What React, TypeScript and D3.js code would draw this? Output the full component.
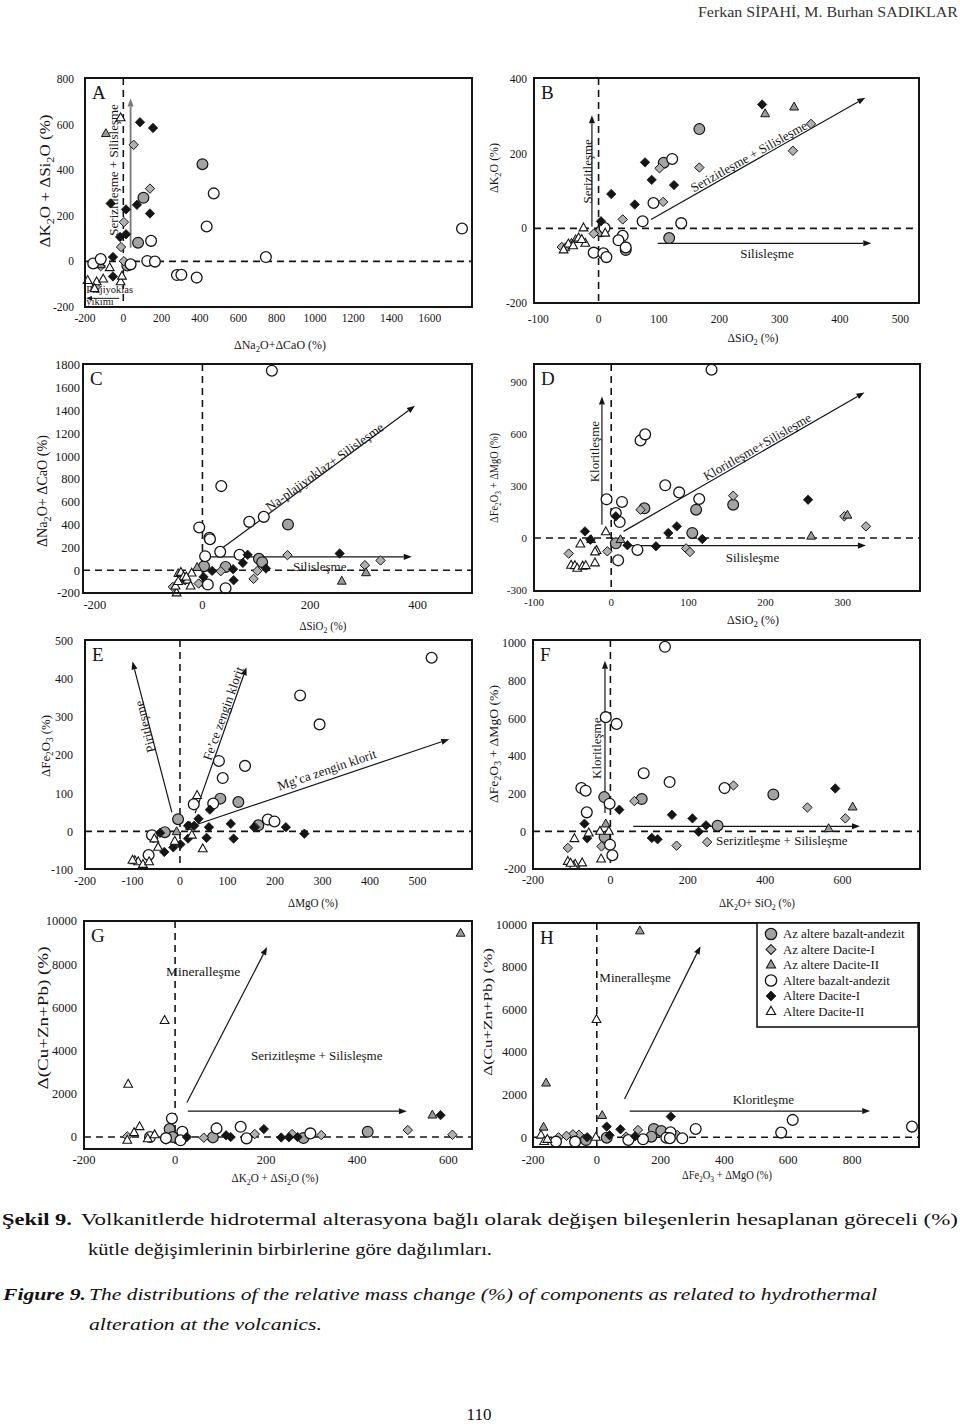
import React, { useEffect } from 'react';
import * as d3 from 'd3';

type P = [number, number];

// ---------------- DATA ----------------
// Series order: azBA (gray circle), azD1 (gray diamond), azD2 (gray triangle),
// altBA (open circle), altD1 (black diamond), altD2 (open triangle)
const LEGEND_LABELS = [
  'Az altere bazalt-andezit',
  'Az altere Dacite-I',
  'Az altere Dacite-II',
  'Altere bazalt-andezit',
  'Altere Dacite-I',
  'Altere Dacite-II',
];

// Panel A: ΔNa2O+ΔCaO vs ΔK2O+ΔSi2O
const A_azBA: P[] = [[413, 426], [105, 279], [77, 82], [21, -18]];
const A_azD1: P[] = [[54, 511], [139, 319], [3, 172], [-12, 63], [3, 1], [-118, -21], [-143, -112]];
const A_azD2: P[] = [[-91, 560], [-118, -15]];
const A_altBA: P[] = [[-157, -9], [-118, 10], [125, 2], [165, -1], [145, 90], [435, 153], [472, 298], [744, 19], [1768, 144], [280, -60], [303, -59], [383, -71], [38, -13]];
const A_altD1: P[] = [[87, 610], [155, 585], [-66, 254], [71, 248], [139, 210], [14, 228], [-17, 107], [14, 119], [-54, 19], [-54, -66]];
const A_altD2: P[] = [[-14, 629], [-186, -84], [-139, -90], [-105, -78], [-71, -28], [-14, -90], [-7, -65], [-150, -120]];

// Panel B: ΔSiO2 vs ΔK2O
const B_azBA: P[] = [[167, 266], [108, 176], [117, -26], [4, -8], [45, -58]];
const B_azD1: P[] = [[101, 161], [167, 163], [107, 71], [40, 24], [322, 208], [352, 280], [-61, -50], [-8, -14]];
const B_azD2: P[] = [[276, 307], [324, 325], [-55, -52], [-45, -40], [-38, -30]];
const B_altBA: P[] = [[122, 186], [91, 68], [73, 19], [137, 14], [10, 1], [40, -20], [33, -32], [45, -51], [-8, -65], [8, -67], [13, -77]];
const B_altD1: P[] = [[271, 332], [77, 177], [88, 130], [125, 116], [21, 92], [60, 64], [4, 19]];
const B_altD2: P[] = [[-25, 1], [-22, -40], [-33, -26], [-50, -42], [11, -13], [-58, -58], [-42, -47], [-28, -30]];

// Panel C: ΔSiO2 vs ΔNa2O+ΔCaO
const C_azBA: P[] = [[159, 401], [105, 100], [111, 70], [43, 29], [3, 35]];
const C_azD1: P[] = [[158, 132], [302, 44], [331, 85], [102, -6], [95, -76], [34, -9], [-7, -117], [-55, -146]];
const C_azD2: P[] = [[259, -97], [304, -23], [-10, 23], [-45, -30]];
const C_altBA: P[] = [[129, 1750], [35, 738], [-6, 375], [87, 424], [114, 468], [13, 284], [14, 272], [33, 161], [5, 123], [69, 135], [10, -126], [43, -158]];
const C_altD1: P[] = [[255, 146], [84, 135], [75, 64], [57, 9], [118, 15], [18, -6], [2, -59], [58, -88], [-32, -88]];
const C_altD2: P[] = [[-40, -20], [-35, -58], [-28, -88], [-20, -26], [-48, -200], [-50, -140], [-22, -140], [-30, -60], [-45, -100]];

// Panel D: ΔSiO2 vs ΔFe2O3+ΔMgO
const D_azBA: P[] = [[43, 171], [110, 163], [158, 192], [105, 29], [6, -31]];
const D_azD1: P[] = [[158, 244], [38, 163], [302, 125], [330, 67], [97, -60], [102, -81], [-5, -77], [-55, -90]];
const D_azD2: P[] = [[306, 131], [259, 10], [-26, -10], [12, -10]];
const D_altBA: P[] = [[130, 971], [38, 563], [44, 598], [70, 304], [88, 263], [114, 225], [-6, 223], [14, 208], [6, 144], [11, 92], [34, -69], [9, -129]];
const D_altD1: P[] = [[255, 221], [6, 125], [85, 67], [74, 29], [-34, 38], [118, -6], [21, -42], [58, -48], [-27, -10]];
const D_altD2: P[] = [[-7, 35], [-40, -35], [-19, -73], [-21, -144], [-52, -158], [-47, -160], [-44, -175], [-37, -163], [-33, -160], [-21, -81]];

// Panel E: ΔMgO vs ΔFe2O3
const E_azBA: P[] = [[85, 86], [123, 77], [-4, 32], [165, 16], [-32, -2]];
const E_azD1: P[] = [[158, 11], [-56, -18]];
const E_azD2: P[] = [[-7, -1], [21, 13]];
const E_altBA: P[] = [[530, 456], [253, 357], [294, 281], [82, 185], [137, 172], [90, 140], [29, 71], [70, 73], [185, 31], [199, 26], [-59, -10], [-66, -62]];
const E_altD1: P[] = [[63, 57], [39, 33], [30, 15], [17, 15], [61, 11], [107, 20], [156, 11], [223, 11], [262, -6], [56, -17], [113, -19], [17, -19], [1, -34], [-14, -42], [-33, -54], [-42, -4]];
const E_altD2: P[] = [[25, -10], [48, -46], [36, 94], [-11, -26], [-46, -42], [-54, -20], [-95, -77], [-88, -80], [-78, -87], [-65, -80], [-100, -76]];

// Panel F: ΔK2O+SiO2 vs ΔFe2O3+ΔMgO
const F_azBA: P[] = [[-16, 182], [81, 172], [421, 196], [277, 30], [-15, -30]];
const F_azD1: P[] = [[318, 244], [62, 161], [509, 127], [607, 69], [250, -57], [171, -76], [-23, -80], [-110, -88]];
const F_azD2: P[] = [[626, 129], [564, 14], [-12, 39]];
const F_altBA: P[] = [[141, 981], [-12, 607], [16, 571], [86, 309], [153, 262], [295, 230], [-75, 230], [-64, 216], [-61, 101], [-2, 147], [-1, -71], [5, -127]];
const F_altD1: P[] = [[581, 228], [23, 115], [159, 88], [212, 69], [247, 32], [228, -2], [107, -35], [122, -42], [-67, 41], [-60, -37]];
const F_altD2: P[] = [[-93, -39], [-56, -9], [-27, 0], [-4, 0], [-24, -147], [-110, -160], [-91, -175], [-73, -168], [-95, -185], [-103, -170]];

// Panel G: ΔK2O+ΔSi2O vs Δ(Cu+Zn+Pb)
const G_azBA: P[] = [[-12, 369], [83, -15], [282, -46], [423, 246], [-5, 0]];
const G_azD1: P[] = [[511, 323], [609, 108], [321, 92], [257, 138], [175, 138], [63, -31], [-20, -120], [-105, 30]];
const G_azD2: P[] = [[627, 9430], [565, 1014]];
const G_altBA: P[] = [[-7, 860], [91, 400], [144, 476], [16, 246], [157, -61], [297, 169], [12, -150], [-20, -50], [-55, 0]];
const G_altD1: P[] = [[583, 1014], [195, 369], [233, -20], [269, 0], [250, -10], [112, 80], [122, 0], [26, 0]];
const G_altD2: P[] = [[-23, 5392], [-103, 2442], [-78, 476], [-105, -150], [-90, 200], [-60, -80], [-45, 100]];

// Panel H: ΔFe2O3+ΔMgO vs Δ(Cu+Zn+Pb)
const H_azBA: P[] = [[179, 392], [202, 298], [171, 31], [-34, -126], [31, -16]];
const H_azD1: P[] = [[129, 345], [252, 110], [92, 31], [-56, 120], [-75, 140], [-95, 70], [-120, 0]];
const H_azD2: P[] = [[135, 9686], [-159, 2543], [17, 1020], [-167, 471]];
const H_altBA: P[] = [[988, 502], [614, 816], [578, 220], [310, 392], [231, 235], [268, -47], [145, -94], [99, -126], [218, -20], [229, -40], [-68, -204], [-128, -204]];
const H_altD1: P[] = [[232, 973], [31, 502], [74, 377], [120, 50], [-30, 0], [40, 100]];
const H_altD2: P[] = [[-1, 5526], [-175, 100], [-165, -200], [-155, -100], [-3, 0]];

// Tick labels
const A_xTicks = [-200, 0, 200, 400, 600, 800, 1000, 1200, 1400, 1600];
const A_yTicks = [-200, 0, 200, 400, 600, 800];
const B_xTicks = [-100, 0, 100, 200, 300, 400, 500];
const B_yTicks = [-200, 0, 200, 400];
const C_xTicks = [-200, 0, 200, 400];
const C_yTicks = [-200, 0, 200, 400, 600, 800, 1000, 1200, 1400, 1600, 1800];
const D_xTicks = [-100, 0, 100, 200, 300];
const D_yTicks = [-300, 0, 300, 600, 900];
const E_xTicks = [-200, -100, 0, 100, 200, 300, 400, 500];
const E_yTicks = [-100, 0, 100, 200, 300, 400, 500];
const F_xTicks = [-200, 0, 200, 400, 600];
const F_yTicks = [-200, 0, 200, 400, 600, 800, 1000];
const G_xTicks = [-200, 0, 200, 400, 600];
const G_yTicks = [0, 2000, 4000, 6000, 8000, 10000];
const H_xTicks = [-200, 0, 200, 400, 600, 800];
const H_yTicks = [0, 2000, 4000, 6000, 8000, 10000];

// ---------------- LAYOUT / CONFIG ----------------
interface Arrow { from: P; to: P; color?: string; width?: number; head?: number }
interface Note { text: string; at: P; angle?: number; anchor?: 'start' | 'middle' | 'end'; size?: number }
interface Panel {
  letter: string;
  box: [number, number, number, number];
  xDomain: [number, number];
  yDomain: [number, number];
  xTicks: number[];
  yTicks: number[];
  tickSize: number;
  yTickGap: number;
  xTickDy: number;
  xLabel: string;
  yLabel: string;
  xLabelPos: P;
  yLabelPos: P;
  xLabelLen: number;
  yLabelLen: number;
  yLabelSize: number;
  series: P[][];
  arrows: Arrow[];
  notes: Note[];
}

const PANELS: Panel[] = [
  {
    letter: 'A', box: [85, 78, 472, 307], xDomain: [-200, 1820], yDomain: [-200, 804],
    xTicks: A_xTicks, yTicks: A_yTicks, tickSize: 11.5, yTickGap: 11, xTickDy: 15,
    xLabel: 'ΔNa_2O+ΔCaO (%)', yLabel: 'ΔK_2O + ΔSi_2O (%)', xLabelPos: [280, 349], yLabelPos: [50, 181],
    xLabelLen: 92, yLabelLen: 133, yLabelSize: 14.5,
    series: [A_azBA, A_azD1, A_azD2, A_altBA, A_altD1, A_altD2],
    arrows: [
      { from: [38, 60], to: [38, 714], color: '#777', width: 1.8 },
      { from: [-21, -162], to: [-195, -162], width: 1, head: 6 },
    ],
    notes: [
      { text: 'Serizitleşme + Silisleşme', at: [-52, 401], angle: -90 },
      { text: 'Plajiyoklas', at: [-193, -140], anchor: 'start', size: 10.5 },
      { text: 'yıkımı', at: [-193, -192], anchor: 'start', size: 10.5 },
    ],
  },
  {
    letter: 'B', box: [534, 78, 919, 303], xDomain: [-107, 531], yDomain: [-200, 403],
    xTicks: B_xTicks, yTicks: B_yTicks, tickSize: 11.5, yTickGap: 7, xTickDy: 20,
    xLabel: 'ΔSiO_2 (%)', yLabel: 'ΔK_2O (%)', xLabelPos: [753, 342], yLabelPos: [498, 168],
    xLabelLen: 51, yLabelLen: 50, yLabelSize: 12.5,
    series: [B_azBA, B_azD1, B_azD2, B_altBA, B_altD1, B_altD2],
    arrows: [
      { from: [-11, 5], to: [-11, 303] },
      { from: [87, 24], to: [442, 350] },
      { from: [98, -40], to: [452, -40] },
    ],
    notes: [
      { text: 'Serizitleşme', at: [-19, 153], angle: -90 },
      { text: 'Serizitleşme + Silisleşme', at: [249, 193], angle: -29.4 },
      { text: 'Silisleşme', at: [279, -66] },
    ],
  },
  {
    letter: 'C', box: [83, 364, 472, 593], xDomain: [-222, 501], yDomain: [-200, 1809],
    xTicks: C_xTicks, yTicks: C_yTicks, tickSize: 12.5, yTickGap: 3, xTickDy: 16,
    xLabel: 'ΔSiO_2 (%)', yLabel: 'ΔNa_2O+ ΔCaO (%)', xLabelPos: [323, 630], yLabelPos: [47, 491],
    xLabelLen: 47, yLabelLen: 112, yLabelSize: 14,
    series: [C_azBA, C_azD1, C_azD2, C_altBA, C_altD1, C_altD2],
    arrows: [
      { from: [30, 170], to: [395, 1443] },
      { from: [10, 117], to: [389, 117] },
    ],
    notes: [
      { text: 'Na-plajiyoklaz+ Silisleşme', at: [227, 907], angle: -35.7 },
      { text: 'Silisleşme', at: [218, 35] },
    ],
  },
  {
    letter: 'D', box: [534, 364, 920, 591], xDomain: [-100, 400], yDomain: [-306, 1004],
    xTicks: D_xTicks, yTicks: D_yTicks, tickSize: 11, yTickGap: 7, xTickDy: 15,
    xLabel: 'ΔSiO_2 (%)', yLabel: 'ΔFe_2O_3 + ΔMgO (%)', xLabelPos: [753, 624], yLabelPos: [498, 478],
    xLabelLen: 52, yLabelLen: 90, yLabelSize: 11.5,
    series: [D_azBA, D_azD1, D_azD2, D_altBA, D_altD1, D_altD2],
    arrows: [
      { from: [-12, 77], to: [-12, 817] },
      { from: [16, 38], to: [328, 840] },
      { from: [21, -44], to: [330, -44] },
    ],
    notes: [
      { text: 'Kloritleşme', at: [-22, 498], angle: -90 },
      { text: 'Kloritleşme+Silisleşme', at: [189, 527], angle: -29.9 },
      { text: 'Silisleşme', at: [183, -111] },
    ],
  },
  {
    letter: 'E', box: [85, 640, 472, 869], xDomain: [-200, 615], yDomain: [-98.8, 502.6],
    xTicks: E_xTicks, yTicks: E_yTicks, tickSize: 12, yTickGap: 12, xTickDy: 16,
    xLabel: 'ΔMgO (%)', yLabel: 'ΔFe_2O_3 (%)', xLabelPos: [313, 907], yLabelPos: [50, 746],
    xLabelLen: 50, yLabelLen: 62, yLabelSize: 13,
    series: [E_azBA, E_azD1, E_azD2, E_altBA, E_altD1, E_altD2],
    arrows: [
      { from: [-17, 50], to: [-100, 446] },
      { from: [32, 48], to: [140, 431] },
      { from: [35, 18], to: [567, 242] },
    ],
    notes: [
      { text: 'Piritleşme', at: [-74, 275], angle: -104 },
      { text: 'Fe’ce zengin klorit', at: [91, 310], angle: -70.5 },
      { text: 'Mg’ca zengin klorit', at: [309, 162], angle: -18.7 },
    ],
  },
  {
    letter: 'F', box: [533, 640, 920, 869], xDomain: [-200, 800], yDomain: [-200, 1017],
    xTicks: F_xTicks, yTicks: F_yTicks, tickSize: 12, yTickGap: 7, xTickDy: 14.5,
    xLabel: 'ΔK_2O+ SiO_2 (%)', yLabel: 'ΔFe_2O_3 + ΔMgO (%)', xLabelPos: [757, 907], yLabelPos: [498, 744],
    xLabelLen: 76, yLabelLen: 118, yLabelSize: 13.5,
    series: [F_azBA, F_azD1, F_azD2, F_altBA, F_altD1, F_altD2],
    arrows: [
      { from: [-14, 98], to: [-14, 907] },
      { from: [59, 27], to: [645, 27] },
    ],
    notes: [
      { text: 'Kloritleşme', at: [-35, 442], angle: -90 },
      { text: 'Serizitleşme + Silisleşme', at: [443, -48] },
    ],
  },
  {
    letter: 'G', box: [84, 921, 472, 1149], xDomain: [-200, 652], yDomain: [-553, 10000],
    xTicks: G_xTicks, yTicks: G_yTicks, tickSize: 12.5, yTickGap: 7, xTickDy: 15,
    xLabel: 'ΔK_2O + ΔSi_2O (%)', yLabel: 'Δ(Cu+Zn+Pb) (%)', xLabelPos: [275, 1182], yLabelPos: [48, 1018],
    xLabelLen: 87, yLabelLen: 143, yLabelSize: 14.5,
    series: [G_azBA, G_azD1, G_azD2, G_altBA, G_altD1, G_altD2],
    arrows: [
      { from: [26, 1598], to: [202, 8797] },
      { from: [28, 1198], to: [509, 1198] },
    ],
    notes: [
      { text: 'Mineralleşme', at: [-20, 7465], anchor: 'start', size: 13.5 },
      { text: 'Serizitleşme + Silisleşme', at: [311, 3779] },
    ],
  },
  {
    letter: 'H', box: [533, 923, 919, 1147], xDomain: [-200, 1010], yDomain: [-455, 10060],
    xTicks: H_xTicks, yTicks: H_yTicks, tickSize: 12.5, yTickGap: 6, xTickDy: 17,
    xLabel: 'ΔFe_2O_3 + ΔMgO (%)', yLabel: 'Δ(Cu+Zn+Pb) (%)', xLabelPos: [727, 1179], yLabelPos: [492, 1012],
    xLabelLen: 90, yLabelLen: 128, yLabelSize: 13.5,
    series: [H_azBA, H_azD1, H_azD2, H_altBA, H_altD1, H_altD2],
    arrows: [
      { from: [87, 1795], to: [325, 8970] },
      { from: [103, 1233], to: [857, 1233] },
    ],
    notes: [
      { text: 'Mineralleşme', at: [8, 7290], anchor: 'start' },
      { text: 'Kloritleşme', at: [522, 1777] },
    ],
  },
];

const SERIF = '"Liberation Serif", "Times New Roman", serif';
const INK = '#151515';

// ---------------- HELPERS ----------------
function richText(s: string, size: number) {
  // "_2" => subscript 2
  const parts: React.ReactNode[] = [];
  const re = /_(\d+)/g;
  let last = 0;
  let m: RegExpExecArray | null;
  let k = 0;
  let shifted = false;
  while ((m = re.exec(s)) !== null) {
    if (m.index > last) {
      parts.push(<tspan key={k++} dy={shifted ? -size * 0.25 : 0}>{s.slice(last, m.index)}</tspan>);
      shifted = false;
    }
    parts.push(<tspan key={k++} dy={shifted ? 0 : size * 0.25} fontSize={size * 0.72}>{m[1]}</tspan>);
    shifted = true;
    last = m.index + m[0].length;
  }
  if (last < s.length) {
    parts.push(<tspan key={k++} dy={shifted ? -size * 0.25 : 0}>{s.slice(last)}</tspan>);
  }
  return parts;
}

function Marker({ kind, x, y, scale = 1 }: { kind: number; x: number; y: number; scale?: number }) {
  const t = `translate(${x},${y}) scale(${scale})`;
  switch (kind) {
    case 0:
      return <circle transform={t} r={5.4} fill="#a3a3a3" stroke={INK} strokeWidth={1.2} />;
    case 1:
      return <path transform={t} d="M0,-4.7L4.7,0L0,4.7L-4.7,0Z" fill="#b0b0b0" stroke={INK} strokeWidth={1} />;
    case 2:
      return <path transform={t} d="M0,-5L4.4,2.9L-4.4,2.9Z" fill="#9a9a9a" stroke={INK} strokeWidth={1} />;
    case 3:
      return <circle transform={t} r={5.4} fill="#fff" stroke={INK} strokeWidth={1.3} />;
    case 4:
      return <path transform={t} d="M0,-4.7L4.7,0L0,4.7L-4.7,0Z" fill={INK} stroke={INK} strokeWidth={0.8} />;
    default:
      return <path transform={t} d="M0,-5L4.4,2.9L-4.4,2.9Z" fill="#fff" stroke={INK} strokeWidth={1.1} />;
  }
}

function arrowHead(x1: number, y1: number, x2: number, y2: number, len: number, half: number) {
  const a = Math.atan2(y2 - y1, x2 - x1);
  const bx = x2 - len * Math.cos(a);
  const by = y2 - len * Math.sin(a);
  const px = -Math.sin(a) * half;
  const py = Math.cos(a) * half;
  return { path: `M${x2},${y2}L${bx + px},${by + py}L${bx - px},${by - py}Z`, bx, by };
}

function PanelView({ p }: { p: Panel }) {
  const [x0, y0, x1, y1] = p.box;
  const xs = d3.scaleLinear().domain(p.xDomain).range([x0, x1]);
  const ys = d3.scaleLinear().domain(p.yDomain).range([y1, y0]);
  const fmt = (v: number) => String(v);
  const labelSize = 11.5;
  return (
    <g>
      {/* zero dashed lines */}
      <line x1={xs(0)} x2={xs(0)} y1={y0} y2={y1} stroke={INK} strokeWidth={1.6} strokeDasharray="7,5" />
      <line x1={x0} x2={x1} y1={ys(0)} y2={ys(0)} stroke={INK} strokeWidth={1.6} strokeDasharray="7,5" />

      {/* arrows */}
      {p.arrows.map((a, i) => {
        const ax1 = xs(a.from[0]), ay1 = ys(a.from[1]);
        const ax2 = xs(a.to[0]), ay2 = ys(a.to[1]);
        const hl = a.head ?? 8;
        const h = arrowHead(ax1, ay1, ax2, ay2, hl, hl * 0.38);
        const col = a.color ?? INK;
        return (
          <g key={'ar' + i}>
            <line x1={ax1} y1={ay1} x2={h.bx} y2={h.by} stroke={col} strokeWidth={a.width ?? 1.2} />
            <path d={h.path} fill={col} />
          </g>
        );
      })}

      {/* notes */}
      {p.notes.map((n, i) => {
        const size = n.size ?? 13;
        return (
          <text key={'n' + i}
            transform={`translate(${xs(n.at[0])},${ys(n.at[1])}) rotate(${n.angle ?? 0})`}
            textAnchor={n.anchor ?? 'middle'} dy={n.anchor === 'start' && !n.angle ? 0 : '0.35em'}
            fontFamily={SERIF} fontSize={size} fill={INK}>
            {n.text}
          </text>
        );
      })}

      {/* points */}
      {p.series.map((ser, si) => (
        <g key={'s' + si}>
          {ser.map((d, i) => <Marker key={i} kind={si} x={xs(d[0])} y={ys(d[1])} />)}
        </g>
      ))}

      {/* frame */}
      <rect x={x0} y={y0} width={x1 - x0} height={y1 - y0} fill="none" stroke={INK} strokeWidth={2} />

      {/* letter */}
      <text x={x0 + 7} y={y0 + 21} fontFamily={SERIF} fontSize={19} fill={INK}>{p.letter}</text>

      {/* tick labels */}
      {p.xTicks.map((t) => (
        <text key={'xt' + t} x={xs(t)} y={y1 + p.xTickDy} textAnchor="middle" fontFamily={SERIF} fontSize={p.tickSize} fill={INK}>{fmt(t)}</text>
      ))}
      {p.yTicks.map((t) => (
        <text key={'yt' + t} x={x0 - p.yTickGap} y={ys(t)} dy="0.35em" textAnchor="end" fontFamily={SERIF} fontSize={p.tickSize} fill={INK}>{fmt(t)}</text>
      ))}

      {/* axis labels */}
      <text x={p.xLabelPos[0] - p.xLabelLen / 2} y={p.xLabelPos[1]} fontFamily={SERIF} fontSize={labelSize} fill={INK}
        textLength={p.xLabelLen} lengthAdjust="spacingAndGlyphs">
        {richText(p.xLabel, labelSize)}
      </text>
      <text transform={`translate(${p.yLabelPos[0]},${p.yLabelPos[1]}) rotate(-90)`} x={-p.yLabelLen / 2} dy="0.35em"
        fontFamily={SERIF} fontSize={p.yLabelSize} fill={INK} textLength={p.yLabelLen} lengthAdjust="spacingAndGlyphs">
        {richText(p.yLabel, p.yLabelSize)}
      </text>
    </g>
  );
}

function Legend() {
  const x0 = 757, y0 = 923, x1 = 918, y1 = 1027;
  const rowY = [934, 949.5, 965, 980.5, 996, 1011.5];
  return (
    <g>
      <rect x={x0} y={y0} width={x1 - x0} height={y1 - y0} fill="#fff" stroke={INK} strokeWidth={1.6} />
      {LEGEND_LABELS.map((l, i) => (
        <g key={l}>
          <Marker kind={i} x={771} y={rowY[i]} scale={1.05} />
          <text x={783} y={rowY[i]} dy="0.35em" fontFamily={SERIF} fontSize={12.8} fill={INK}>{l}</text>
        </g>
      ))}
    </g>
  );
}

export default function App() {
  useEffect(() => {
    document.body.style.margin = '0';
  }, []);
  const CAP = '"Liberation Serif", "DejaVu Serif", serif';
  return (
    <div style={{ position: 'absolute', left: 0, top: 0 }}>
      <svg width={960} height={1426} viewBox="0 0 960 1426" style={{ display: 'block', background: '#fff' }}>
        <rect x={0} y={0} width={960} height={1426} fill="#fff" />
        {/* header */}
        <text x={958} y={17} textAnchor="end" fontFamily={CAP} fontSize={14.5} fill="#333" textLength={260} lengthAdjust="spacingAndGlyphs">
          Ferkan SİPAHİ, M. Burhan SADIKLAR
        </text>

        {PANELS.map((p) => <PanelView key={p.letter} p={p} />)}
        <Legend />

        {/* caption */}
        <text x={2} y={1225} fontFamily={CAP} fontSize={17.5} fontWeight="bold" fill="#111" textLength={70} lengthAdjust="spacingAndGlyphs">Şekil 9.</text>
        <text x={81} y={1225} fontFamily={CAP} fontSize={17.5} fill="#111" textLength={877} lengthAdjust="spacingAndGlyphs">
          Volkanitlerde hidrotermal alterasyona bağlı olarak değişen bileşenlerin hesaplanan göreceli (%)
        </text>
        <text x={88} y={1255} fontFamily={CAP} fontSize={17.5} fill="#111" textLength={404} lengthAdjust="spacingAndGlyphs">
          kütle değişimlerinin birbirlerine göre dağılımları.
        </text>
        <text x={3} y={1300} fontFamily={CAP} fontSize={17.5} fontWeight="bold" fontStyle="italic" fill="#111" textLength={83} lengthAdjust="spacingAndGlyphs">Figure 9.</text>
        <text x={89} y={1300} fontFamily={CAP} fontSize={17.5} fontStyle="italic" fill="#111" textLength={788} lengthAdjust="spacingAndGlyphs">
          The distributions of the relative mass change (%) of components as related to hydrothermal
        </text>
        <text x={89} y={1330} fontFamily={CAP} fontSize={17.5} fontStyle="italic" fill="#111" textLength={233} lengthAdjust="spacingAndGlyphs">
          alteration at the volcanics.
        </text>

        {/* page number */}
        <text x={479} y={1420} textAnchor="middle" fontFamily={CAP} fontSize={17} fill="#111">110</text>
      </svg>
    </div>
  );
}
